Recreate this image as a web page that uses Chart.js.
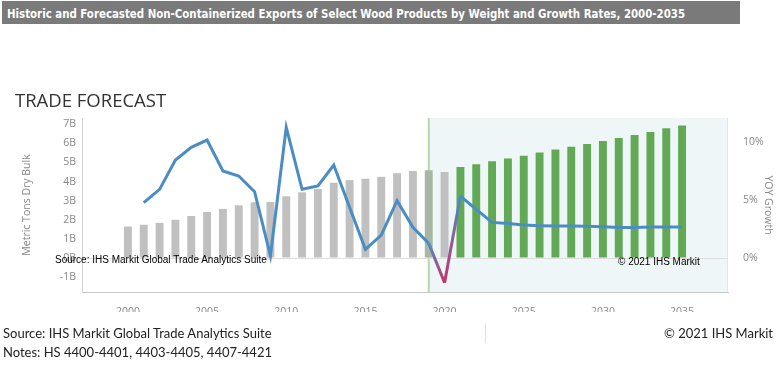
<!DOCTYPE html>
<html>
<head>
<meta charset="utf-8">
<script src="https://cdn.jsdelivr.net/npm/chart.js@4.4.1/dist/chart.umd.min.js"></script>
<style>
  body { margin: 0; background: #fff; }
  #page { position: relative; width: 777px; height: 381px; overflow: hidden; }
  #chart { position: absolute; left: 0; top: 0; }
  .txt { position: absolute; white-space: nowrap; }
  #title {
    left: 2px; top: 1px; width: 738px; height: 23px; background: #7a7a7a;
    line-height: 23px; padding-left: 5px; box-sizing: border-box;
  }
  #title span {
    display: inline-block; transform: scaleX(0.875); transform-origin: left center;
    color: #fff; font: bold 13px "DejaVu Sans Condensed", "DejaVu Sans", sans-serif;
  }
  #heading { left: 15px; top: 87px; font: 18.5px "Open Sans", sans-serif; color: #333; }
  .inner { font: 10px "Liberation Sans", Arial, sans-serif; color: #000; }
  .foot { font: 13px Lato, sans-serif; color: #222; }
  #divider { position: absolute; left: 485px; top: 323px; width: 1px; height: 20px; background: #e2e2e2; }
</style>
</head>
<body>
<div id="page">
  <canvas id="chart" width="777" height="381"></canvas>
  <div id="title" class="txt"><span>Historic and Forecasted Non-Containerized Exports of Select Wood Products by Weight and Growth Rates, 2000-2035</span></div>
  <div id="heading" class="txt">TRADE FORECAST</div>
  <div class="txt inner" style="left:55px; top:254px;">Source: IHS Markit Global Trade Analytics Suite</div>
  <div class="txt inner" style="left:618px; top:256px;">© 2021 IHS Markit</div>
  <div class="txt foot" style="left:3px; top:325px;">Source: IHS Markit Global Trade Analytics Suite</div>
  <div class="txt foot" style="left:3px; top:344px;">Notes: HS 4400-4401, 4403-4405, 4407-4421</div>
  <div class="txt foot" style="left:664px; top:325px;">© 2021 IHS Markit</div>
  <div id="divider"></div>
</div>
<script>
// historic volumes (billion metric tons, dry bulk)
const HIST_YEARS = [2000, 2001, 2002, 2003, 2004, 2005, 2006, 2007, 2008, 2009, 2010,
  2011, 2012, 2013, 2014, 2015, 2016, 2017, 2018, 2019, 2020];
const HIST_TONS = [1.65, 1.74, 1.84, 2.0, 2.2, 2.41, 2.57, 2.76, 2.92, 2.93, 3.23,
  3.44, 3.61, 3.94, 4.08, 4.15, 4.25, 4.44, 4.55, 4.6, 4.5];

// forecast volumes
const FCST_YEARS = [2021, 2022, 2023, 2024, 2025, 2026, 2027, 2028, 2029, 2030,
  2031, 2032, 2033, 2034, 2035];
const FCST_TONS = [4.76, 4.91, 5.07, 5.21, 5.36, 5.52, 5.68, 5.83, 5.97, 6.13,
  6.28, 6.44, 6.6, 6.79, 6.94];

// year on year growth, %
const GROWTH_YEARS = [2001, 2002, 2003, 2004, 2005, 2006, 2007, 2008, 2009, 2010,
  2011, 2012, 2013, 2014, 2015, 2016, 2017, 2018, 2019, 2020,
  2021, 2022, 2023, 2024, 2025, 2026, 2027, 2028, 2029, 2030,
  2031, 2032, 2033, 2034, 2035];
const GROWTH = [4.8, 5.95, 8.48, 9.57, 10.2, 7.53, 7.1, 5.75, 0.23, 11.3,
  5.95, 6.24, 8.05, 4.4, 0.78, 2.0, 4.97, 2.67, 1.29, -2.1,
  5.37, 4.22, 3.1, 3.0, 2.87, 2.82, 2.79, 2.79, 2.76, 2.73,
  2.67, 2.67, 2.7, 2.7, 2.7];

const X_TICKS = [2000, 2005, 2010, 2015, 2020, 2025, 2030, 2035];
const TON_TICKS = [-1, 0, 1, 2, 3, 4, 5, 6, 7];
const GROWTH_TICKS = [0, 5, 10];

const FORECAST_START = 2019;
const DIP_YEAR = 2020;

const BLUE = '#4b8dc2';
const RED = '#c8336a';
const TICK_FONT = { family: 'Open Sans', size: 10.5 };

const pairs = (xs, ys) => xs.map((x, i) => ({ x, y: ys[i] }));

const shade = {
  id: 'shade',
  beforeDraw(chart) {
    const { ctx, chartArea: a, scales } = chart;
    const x0 = scales.x.getPixelForValue(FORECAST_START);
    ctx.save();
    ctx.fillStyle = '#eff6f7';
    ctx.fillRect(x0, a.top, a.right - x0, a.bottom - a.top);
    ctx.strokeStyle = '#dde8ea';
    ctx.lineWidth = 1;
    ctx.beginPath();
    ctx.moveTo(a.right - 0.5, a.top);
    ctx.lineTo(a.right - 0.5, a.bottom);
    ctx.stroke();
    ctx.strokeStyle = '#b2d9a9';
    ctx.lineWidth = 2;
    ctx.beginPath();
    ctx.moveTo(x0, a.top);
    ctx.lineTo(x0, a.bottom);
    ctx.stroke();
    ctx.restore();
  }
};

const dipColor = (c) => {
  const y0 = GROWTH_YEARS[c.p0DataIndex];
  const y1 = GROWTH_YEARS[c.p1DataIndex];
  if (y0 !== DIP_YEAR && y1 !== DIP_YEAR) return undefined;
  const g = c.chart.ctx.createLinearGradient(c.p0.x, c.p0.y, c.p1.x, c.p1.y);
  g.addColorStop(0, y0 === DIP_YEAR ? RED : BLUE);
  g.addColorStop(1, y1 === DIP_YEAR ? RED : BLUE);
  return g;
};

new Chart(document.getElementById('chart'), {
  data: {
    datasets: [
      {
        type: 'line',
        label: 'YOY Growth',
        data: pairs(GROWTH_YEARS, GROWTH),
        yAxisID: 'y2',
        borderColor: BLUE,
        borderWidth: 3,
        pointRadius: 0,
        tension: 0,
        order: 0,
        segment: { borderColor: dipColor }
      },
      {
        type: 'bar',
        label: 'Historic',
        data: pairs(HIST_YEARS, HIST_TONS),
        yAxisID: 'y',
        backgroundColor: HIST_YEARS.map(y => y === FORECAST_START ? '#a7b7a3' : '#c0c0c0'),
        grouped: false,
        barPercentage: 0.5,
        categoryPercentage: 1,
        order: 1
      },
      {
        type: 'bar',
        label: 'Forecast',
        data: pairs(FCST_YEARS, FCST_TONS),
        yAxisID: 'y',
        backgroundColor: '#62a955',
        grouped: false,
        barPercentage: 0.5,
        categoryPercentage: 1,
        order: 1
      }
    ]
  },
  options: {
    responsive: false,
    animation: false,
    devicePixelRatio: 1,
    layout: { padding: { top: 118, left: 0, right: 0, bottom: 69 } },
    plugins: { legend: { display: false }, tooltip: { enabled: false } },
    scales: {
      x: {
        type: 'linear',
        offset: false,
        min: 1997.1,
        max: 2037.9,
        grid: { display: false },
        border: { color: '#c8c8c8' },
        afterBuildTicks: s => { s.ticks = X_TICKS.map(value => ({ value })); },
        afterFit: s => { s.height = 20; },
        ticks: { color: '#888', font: TICK_FONT, padding: 6, maxRotation: 0, callback: v => String(v) }
      },
      y: {
        position: 'left',
        min: -1.78,
        max: 7.33,
        border: { color: '#d0d0d0' },
        grid: {
          drawTicks: false,
          color: c => c.tick && c.tick.value === 0 ? '#dedede' : 'rgba(0,0,0,0)'
        },
        afterBuildTicks: s => { s.ticks = TON_TICKS.map(value => ({ value })); },
        afterFit: s => { s.width = 82; },
        ticks: { color: '#888', font: TICK_FONT, padding: 6, callback: v => v + 'B' },
        title: {
          display: true,
          text: 'Metric Tons Dry Bulk',
          color: '#888',
          font: TICK_FONT,
          padding: { top: 21 }
        }
      },
      y2: {
        position: 'right',
        min: -2.9,
        max: 12.1,
        border: { display: false },
        grid: { display: false },
        afterBuildTicks: s => { s.ticks = GROWTH_TICKS.map(value => ({ value })); },
        afterFit: s => { s.width = 49; },
        ticks: { color: '#888', font: TICK_FONT, padding: 7, callback: v => v + '%' },
        title: {
          display: true,
          text: 'YOY Growth',
          color: '#888',
          font: TICK_FONT,
          padding: { top: 3 }
        }
      }
    }
  },
  plugins: [shade]
});
</script>
</body>
</html>
